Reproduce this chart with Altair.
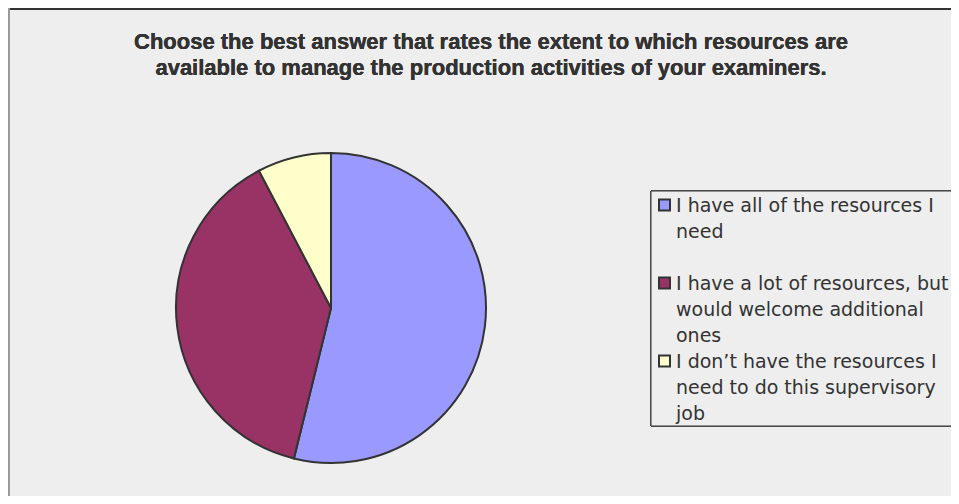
import altair as alt
import pandas as pd

# ---- data ----
categories = [
    "I have all of the resources I need",
    "I have a lot of resources, but would welcome additional ones",
    "I don’t have the resources I need to do this supervisory job",
]
counts = [7, 5, 1]
colors = ["#9999FF", "#993366", "#FFFFCC"]
legend_lines = [
    ["I have all of the resources I", "need", ""],
    ["I have a lot of resources, but", "would welcome additional", "ones"],
    ["I don’t have the resources I", "need to do this supervisory", "job"],
]
title_lines = [
    "Choose the best answer that rates the extent to which resources are",
    "available to manage the production activities of your examiners.",
]

W, H = 943, 488

df = pd.DataFrame({"answer": categories, "count": counts, "order": list(range(len(categories)))})

# legend rows (one row per text line)
rows = []
r = 0
for cat, lines in zip(categories, legend_lines):
    for i, line in enumerate(lines):
        rows.append({"answer": cat, "line": line, "row": r, "first": i == 0})
        r += 1
leg = pd.DataFrame(rows)
n_rows = r

color_scale = alt.Scale(domain=categories, range=colors)
row_scale = alt.Scale(domain=[0, n_rows - 1], range=[204, 204 + 26 * (n_rows - 1)])

pie = alt.Chart(df).mark_arc(outerRadius=155, stroke="#333333", strokeWidth=2).encode(
    theta=alt.Theta("count:Q", stack=True),
    color=alt.Color("answer:N", scale=color_scale, sort=categories, legend=None),
    order=alt.Order("order:Q"),
    x=alt.value(323),
    y=alt.value(300),
)

legend_box = alt.Chart(df).mark_rect(fill="#EEEEEE", stroke="#333333", strokeWidth=1).encode(
    x=alt.value(643), x2=alt.value(W + 20), y=alt.value(183), y2=alt.value(418)
)

legend_symbols = alt.Chart(leg).transform_filter("datum.first").mark_square(
    size=121, stroke="#333333", strokeWidth=2, opacity=1, yOffset=-7
).encode(
    x=alt.value(656.5),
    y=alt.Y("row:Q", scale=row_scale, axis=None),
    fill=alt.Fill("answer:N", scale=color_scale, legend=None),
)

legend_text = alt.Chart(leg).mark_text(
    align="left", baseline="alphabetic", font="DejaVu Sans", fontSize=19, color="#333333"
).encode(
    x=alt.value(668),
    y=alt.Y("row:Q", scale=row_scale, axis=None),
    text="line:N",
)

title_text = alt.Chart(df).mark_text(
    align="center", baseline="top", font="Liberation Sans", fontSize=22,
    fontWeight="bold", color="#333333", lineHeight=26,
).encode(
    x=alt.value(483),
    y=alt.value(24),
    text=alt.value(title_lines),
)

top_border = alt.Chart(df).mark_rule(color="#333333", strokeWidth=2).encode(
    x=alt.value(0), x2=alt.value(W), y=alt.value(1)
)
left_border = alt.Chart(df).mark_rule(color="#999999", strokeWidth=2).encode(
    x=alt.value(1), y=alt.value(0), y2=alt.value(H)
)

chart = alt.layer(
    top_border, left_border, pie, legend_box, legend_symbols, legend_text, title_text
).properties(
    width=W,
    height=H,
    padding=0,
    autosize=alt.AutoSizeParams(type="none"),
    background="#EEEEEE",
).configure_view(stroke=None)

chart.save("out.html", embed_options={"renderer": "svg", "actions": False})
